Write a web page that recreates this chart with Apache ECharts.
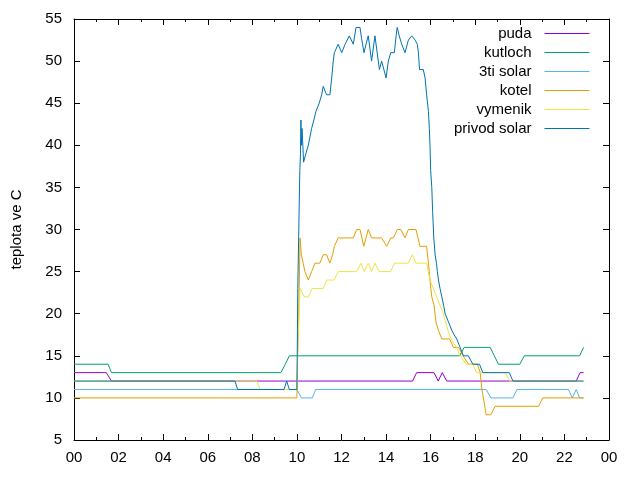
<!DOCTYPE html>
<html>
<head>
<meta charset="utf-8">
<script src="https://cdn.jsdelivr.net/npm/echarts@6/dist/echarts.min.js"></script>
<style>
  html, body { margin: 0; padding: 0; background: #fff; }
  #chart { width: 640px; height: 480px; }
</style>
</head>
<body>
<div id="chart"></div>
<script>
// hours of day (0-24) and temperatures
var puda = [[0,13],[1.45,13],[1.68,12],[15.19,12],[15.37,13],[16.15,13],[16.34,12],[16.52,13],[16.72,12],[22.53,12],[22.7,13],[22.86,13]];

var kutloch = [[0,14],[1.53,14],[1.68,13],[9.28,13],[9.48,14],[9.66,15],[17.3,15],[17.5,16],[18.67,16],[19.04,14],[20.0,14],[20.2,15],[22.68,15],[22.86,16]];

var tretiSolar = [[0,11],[10.0,11],[10.2,10],[10.69,10],[10.84,11],[18.49,11],[18.7,10],[19.69,10],[19.87,11],[22.18,11],[22.35,10],[22.53,11],[22.68,10],[22.86,10]];

var kotel = [[0,10],[10.0,10],[10.03,15],[10.07,18],[10.14,29],[10.2,27],[10.28,26],[10.36,25],[10.51,24],[10.66,25],[10.81,26],[11.03,26],[11.18,27],[11.33,27],[11.48,26],[11.6,27],[11.68,28],[11.85,29],[12.53,29],[12.68,30],[12.83,30],[13.0,28],[13.2,30],[13.35,29],[13.8,29],[14.03,28],[14.21,29],[14.33,29],[14.5,30],[14.66,30],[14.85,29],[15.0,30],[15.34,30],[15.52,28],[15.82,28],[15.9,26],[15.97,24],[16.05,22],[16.15,21],[16.24,19],[16.35,18],[16.5,17],[16.85,17],[17.02,16],[17.25,16],[17.45,15],[17.7,14],[18.1,14],[18.22,13],[18.3,11],[18.49,8],[18.7,8],[18.89,9],[20.84,9],[21.03,10],[22.86,10]];

var vymenik = [[0,12],[8.2,12],[8.34,11],[10.0,11],[10.04,16],[10.14,23],[10.33,22],[10.51,22],[10.69,23],[11.18,23],[11.33,24],[11.67,24],[11.85,25],[12.68,25],[12.87,26],[13.02,25],[13.2,26],[13.35,25],[13.5,26],[13.68,25],[14.21,25],[14.37,26],[15.0,26],[15.18,27],[15.34,26],[15.82,26],[15.97,24],[16.12,23],[16.27,22],[16.42,21],[16.57,20],[16.72,18.5],[16.87,17.3],[17.02,16.5],[17.17,16],[17.32,15],[17.6,14],[17.9,14],[18.05,13],[19.35,13],[19.54,12],[22.86,12]];

var privodSolar = [[0,12],[7.22,12],[7.34,11],[9.42,11],[9.54,12],[9.66,11],[10.0,11],[10.04,23],[10.09,31],[10.13,37],[10.16,39],[10.18,43],[10.2,40],[10.23,42],[10.3,38],[10.4,39],[10.51,40],[10.66,42],[10.76,43],[10.85,44],[11.0,45],[11.11,46],[11.18,47],[11.33,46],[11.48,46],[11.56,48],[11.63,50],[11.68,51],[11.85,52],[12.01,51],[12.16,52],[12.35,53],[12.53,52],[12.65,54],[12.83,54],[12.9,52.7],[13.01,51],[13.1,52],[13.2,53],[13.35,50],[13.5,53],[13.65,50],[13.7,49],[13.8,50],[14.0,48],[14.1,50],[14.21,51],[14.37,51],[14.45,53],[14.5,54],[14.59,53],[14.7,52],[14.85,51],[15.0,52.5],[15.15,53],[15.3,52.5],[15.4,52],[15.45,51],[15.5,49],[15.67,49],[15.75,48],[15.82,46],[15.9,44],[15.94,42],[15.97,40],[16.0,37],[16.05,35],[16.09,32],[16.14,29],[16.2,27],[16.26,26],[16.3,25],[16.35,24],[16.42,23],[16.5,22],[16.58,21],[16.65,20],[16.8,19],[16.95,18],[17.05,17.5],[17.17,17],[17.32,16],[17.47,15],[17.69,15],[17.89,14],[18.19,14],[18.34,13],[19.53,13],[19.69,12],[22.86,12]];

var seriesNames = ['puda', 'kutloch', '3ti solar', 'kotel', 'vymenik', 'privod solar'];
var seriesData = [puda, kutloch, tretiSolar, kotel, vymenik, privodSolar];
var seriesColors = ['#9400d3', '#009e73', '#56b4e9', '#e69f00', '#f0e442', '#0072b2'];

var xTicks = { min: 0, max: 24, interval: 2 };
var yTicks = { min: 5, max: 55, interval: 5 };

var font = 'Liberation Sans, Arial, sans-serif';

var chart = echarts.init(document.getElementById('chart'));

function hourLabel(v) {
    var h = Math.round(v) % 24;
    return (h < 10 ? '0' : '') + h;
}

var axisCommon = {
    axisLine: { show: true, onZero: false, lineStyle: { color: '#000', width: 1 } },
    axisTick: { show: true, inside: true, length: 6, lineStyle: { color: '#000' } },
    splitLine: { show: false }
};

chart.setOption({
    animation: false,
    backgroundColor: '#fff',
    grid: { left: 74, right: 31, top: 19, bottom: 40 },
    legend: {
        orient: 'vertical',
        right: 45,
        top: 21,
        align: 'right',
        itemWidth: 45,
        itemHeight: 14,
        itemGap: 4,
        itemStyle: { opacity: 0 },
        lineStyle: { width: 1 },
        textStyle: { fontFamily: font, fontSize: 15, color: '#000', padding: [0, 8, 0, 0] },
        data: seriesNames
    },
    xAxis: [
        Object.assign({}, axisCommon, {
            type: 'value', position: 'bottom',
            min: xTicks.min, max: xTicks.max, interval: xTicks.interval,
            minorTick: { show: true, splitNumber: 2, length: 3, lineStyle: { color: '#000' } },
            axisLabel: { formatter: hourLabel, fontFamily: font, fontSize: 15, color: '#000', margin: 10 }
        }),
        Object.assign({}, axisCommon, {
            type: 'value', position: 'top',
            min: xTicks.min, max: xTicks.max, interval: xTicks.interval,
            minorTick: { show: true, splitNumber: 2, length: 3, lineStyle: { color: '#000' } },
            axisLabel: { show: false }
        })
    ],
    yAxis: [
        Object.assign({}, axisCommon, {
            type: 'value', position: 'left',
            min: yTicks.min, max: yTicks.max, interval: yTicks.interval,
            name: 'teplota ve C', nameLocation: 'middle', nameGap: 50,
            nameTextStyle: { fontFamily: font, fontSize: 15, color: '#000' },
            axisLabel: { fontFamily: font, fontSize: 15, color: '#000', margin: 12 }
        }),
        Object.assign({}, axisCommon, {
            type: 'value', position: 'right',
            min: yTicks.min, max: yTicks.max, interval: yTicks.interval,
            axisLabel: { show: false }
        })
    ],
    series: seriesNames.map(function (name, i) {
        return {
            name: name,
            type: 'line',
            data: seriesData[i],
            xAxisIndex: 0,
            yAxisIndex: 0,
            symbol: 'none',
            color: seriesColors[i],
            lineStyle: { width: 1, color: seriesColors[i] }
        };
    })
});
</script>
</body>
</html>
